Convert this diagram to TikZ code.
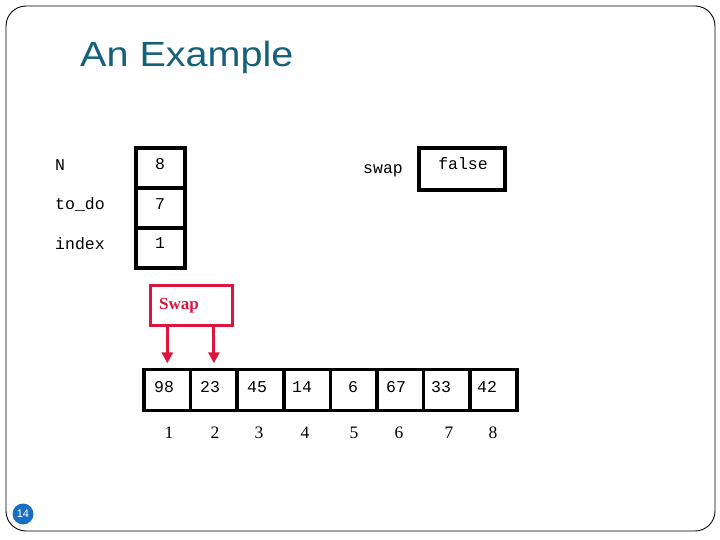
\documentclass[tikz,border=0pt]{standalone}
\usepackage{fontspec}
\setmainfont{Liberation Serif}
\setsansfont{Liberation Sans}
\setmonofont{Liberation Mono}
\usetikzlibrary{arrows.meta}
\definecolor{titleteal}{RGB}{22,96,122}
\definecolor{swapred}{RGB}{218,22,62}
\definecolor{pageblue}{RGB}{24,110,192}
\tikzset{
  varbox/.style={draw=black, line width=3.5pt, inner sep=0pt, outer sep=0pt, minimum width=49pt, minimum height=39.9pt},
  cellbox/.style={draw=black, line width=3.5pt, inner sep=0pt, outer sep=0pt, minimum width=46.6pt, minimum height=41.4pt},
  mono/.style={font=\fontsize{16.5}{18}\ttfamily, inner sep=0pt, anchor=base},
  monoleft/.style={mono, anchor=base west},
  idx/.style={font=\fontsize{17.5}{19}\rmfamily, inner sep=0pt, anchor=base},
  redbox/.style={draw=swapred, line width=3pt, inner sep=0pt, outer sep=0pt, minimum width=82pt, minimum height=40pt},
  redarrow/.style={draw=swapred, line width=3pt, -{Triangle[width=11pt,length=11pt]}}
}
\begin{document}
\begin{tikzpicture}[x=1pt,y=-1pt]
\useasboundingbox (0,0) rectangle (720,540);
% slide frame
\draw[line width=0.9pt, rounded corners=20pt] (6,6) rectangle (715,531);
% title
\node[anchor=base west, inner sep=0pt, text=titleteal, font=\fontsize{35}{40}\sffamily, xscale=1.13, transform shape] (title) at (80,67) {An Example};
% variables
\node[monoleft] (lN) at (55,171) {N};
\node[monoleft] (lt) at (55,210) {to\_do};
\node[monoleft] (li) at (55,249) {index};
\node[varbox] (bN) at (160.5,168) {};
\node[varbox] (bt) at (160.5,207.9) {};
\node[varbox] (bi) at (160.5,247.8) {};
\node[mono] (vN) at (160,169.5) {8};
\node[mono] (vt) at (160,209.5) {7};
\node[mono] (vi) at (160,248.5) {1};
% swap variable
\node[mono] (ls) at (383,174) {swap};
\node[varbox, minimum width=86pt, minimum height=42pt] (bs) at (462,169) {};
\node[mono] (vs) at (463,169.5) {false};
% Swap label box
\node[redbox] (sw) at (191.7,305) {};
\node[anchor=base, inner sep=0pt, text=swapred, font=\fontsize{17}{19}\rmfamily\bfseries] (swt) at (179,309) {Swap};
% array cells
\foreach \i in {1,...,8} {
  \node[cellbox] (c\i) at ({144+46.6*(\i-0.5)},390) {};
}
\foreach \v/\x [count=\i] in {98/164,23/210,45/257,14/302,6/353,67/396,33/441,42/487} {
  \node[mono] (v\i) at (\x,392.5) {\v};
}
\foreach \x [count=\i] in {169,215,259,305,354,399,449,493} {
  \node[idx] (n\i) at (\x,438) {\i};
}
% arrows
\draw[redarrow] (sw.south -| c1) -- ([yshift=6pt]c1.north);
\draw[redarrow] (sw.south -| c2) -- ([yshift=6pt]c2.north);
% page number
\node[circle, fill=pageblue, inner sep=0pt, minimum size=21pt, text=white, font=\fontsize{11}{12}\sffamily] (pg) at (23,514) {14};
\end{tikzpicture}
\end{document}
